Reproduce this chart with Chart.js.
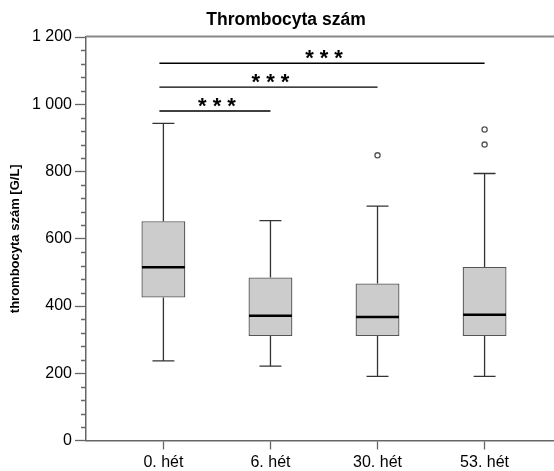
<!DOCTYPE html>
<html><head><meta charset="utf-8">
<script src="https://cdn.jsdelivr.net/npm/chart.js@4.4.1/dist/chart.umd.min.js"></script>
<style>html,body{margin:0;padding:0;background:#fff;overflow:hidden}#wrap{width:554px;height:471px;position:relative;overflow:hidden}</style>
</head><body><div id="wrap"><canvas id="c" width="560" height="471"></canvas></div>
<script>
const categories = ['0. hét', '6. hét', '30. hét', '53. hét'];
const whiskerLow = [237, 221, 191, 191];
const q1 = [425, 311, 311, 311];
const median = [515, 371, 367, 374];
const q3 = [652, 485, 467, 516];
const whiskerHigh = [943, 654, 697, 794];
const outlierCategory = [2, 3, 3];
const outlierValue = [848, 925, 880];
const sigFrom = [0, 0, 0];
const sigTo = [1, 2, 3];
const sigLevel = [980, 1051, 1122];
const sigLabel = ['***', '***', '***'];
const yTickValues = [0, 200, 400, 600, 800, 1000, 1200];
const yMinorStep = 40;
const titleText = 'Thrombocyta szám';
const yAxisTitle = 'thrombocyta szám [G/L]';

const FAMILY = "'Liberation Sans', Arial, sans-serif";
const fmt = v => String(v).replace(/\B(?=(\d{3})+(?!\d))/g, ' ');

const boxData = categories.map((c, i) => ({ x: i, y: [q1[i], q3[i]] }));
const outlierData = outlierValue.map((v, i) => ({ x: outlierCategory[i], y: v }));

const boxPlugin = {
  id: 'boxplotExtras',
  afterDatasetsDraw(chart) {
    const { ctx, chartArea } = chart;
    const x = chart.scales.x, y = chart.scales.y;
    const meta = chart.getDatasetMeta(0);
    ctx.save();
    // top frame line
    ctx.strokeStyle = '#888'; ctx.lineWidth = 2;
    ctx.beginPath();
    ctx.moveTo(chartArea.left, chartArea.top - 0.5);
    ctx.lineTo(chartArea.right, chartArea.top - 0.5);
    ctx.stroke();
    // minor y ticks
    ctx.strokeStyle = '#666'; ctx.lineWidth = 1.3;
    ctx.beginPath();
    for (let v = y.min; v <= y.max; v += yMinorStep) {
      if (yTickValues.includes(v)) continue;
      const py = Math.round(y.getPixelForValue(v)) + 0.5;
      ctx.moveTo(chartArea.left - 5, py);
      ctx.lineTo(chartArea.left, py);
    }
    ctx.stroke();
    // whiskers and medians
    categories.forEach((c, i) => {
      const bar = meta.data[i];
      const cx = x.getPixelForValue(i);
      const bw = bar.width;
      const cap = bw * 0.25;
      const yh = y.getPixelForValue(whiskerHigh[i]);
      const yl = y.getPixelForValue(whiskerLow[i]);
      ctx.strokeStyle = '#333'; ctx.lineWidth = 1.3;
      ctx.beginPath();
      ctx.moveTo(cx, y.getPixelForValue(q3[i])); ctx.lineTo(cx, yh);
      ctx.moveTo(cx, y.getPixelForValue(q1[i])); ctx.lineTo(cx, yl);
      ctx.moveTo(cx - cap, yh); ctx.lineTo(cx + cap, yh);
      ctx.moveTo(cx - cap, yl); ctx.lineTo(cx + cap, yl);
      ctx.stroke();
      const ym = y.getPixelForValue(median[i]);
      ctx.strokeStyle = '#000'; ctx.lineWidth = 2.5;
      ctx.beginPath();
      ctx.moveTo(cx - bw / 2 + 0.5, ym); ctx.lineTo(cx + bw / 2 - 0.5, ym);
      ctx.stroke();
    });
    // significance bars
    ctx.strokeStyle = '#000'; ctx.lineWidth = 1.3;
    ctx.fillStyle = '#000';
    ctx.font = 'bold 22px ' + FAMILY;
    ctx.textAlign = 'center'; ctx.textBaseline = 'alphabetic';
    try { ctx.letterSpacing = '6px'; } catch (e) {}
    sigLevel.forEach((lv, k) => {
      const x0 = x.getPixelForValue(sigFrom[k]) - 4;
      const x1 = x.getPixelForValue(sigTo[k]);
      const py = y.getPixelForValue(lv);
      ctx.beginPath(); ctx.moveTo(x0, py); ctx.lineTo(x1, py); ctx.stroke();
      const mid = (x.getPixelForValue(sigFrom[k]) + x1) / 2 + 3;
      ctx.fillText(sigLabel[k], mid, py + 2);
    });
    try { ctx.letterSpacing = '0px'; } catch (e) {}
    // chart title
    ctx.font = 'bold 17.5px ' + FAMILY;
    ctx.textAlign = 'center'; ctx.textBaseline = 'alphabetic';
    ctx.fillText(titleText, 286, 25.3);
    ctx.restore();
  }
};

new Chart(document.getElementById('c'), {
  type: 'bar',
  data: {
    datasets: [
      { type: 'bar', data: boxData, backgroundColor: '#cccccc', borderColor: '#555', borderWidth: 1.3,
        borderSkipped: false, barPercentage: 0.41, categoryPercentage: 1, order: 2 },
      { type: 'scatter', data: outlierData, pointStyle: 'circle', pointRadius: 2.6, pointBorderWidth: 1.3,
        pointBorderColor: '#555', pointBackgroundColor: '#fff', order: 1 }
    ]
  },
  options: {
    responsive: false, animation: false, devicePixelRatio: 1,
    layout: { padding: { top: 37, left: 0, right: 0, bottom: 0 } },
    plugins: { legend: { display: false }, tooltip: { enabled: false }, title: { display: false } },
    scales: {
      x: {
        type: 'linear', min: -0.723, max: 3.655, offset: false,
        afterBuildTicks: s => { s.ticks = categories.map((c, i) => ({ value: i })); },
        afterFit: s => { s.height = 30.5; },
        ticks: { callback: v => categories[v], font: { family: FAMILY, size: 16 }, color: '#000',
                 padding: 3, maxRotation: 0, autoSkip: false },
        grid: { display: true, offset: false, drawOnChartArea: false, tickLength: 9, tickColor: '#666', tickWidth: 1.3 },
        border: { display: true, color: '#666', width: 1.5 }
      },
      y: {
        min: 0, max: 1200,
        afterBuildTicks: s => { s.ticks = yTickValues.map(v => ({ value: v })); },
        afterFit: s => { s.width = 86; },
        ticks: { callback: v => fmt(v), font: { family: FAMILY, size: 16 }, color: '#000', padding: 3 },
        grid: { drawOnChartArea: false, tickLength: 11, tickColor: '#666', tickWidth: 1.3 },
        border: { color: '#666', width: 1.5 },
        title: { display: true, text: yAxisTitle, font: { family: FAMILY, size: 13, weight: 'bold' },
                 color: '#000', padding: { top: 8, bottom: 0 } }
      }
    }
  },
  plugins: [boxPlugin]
});
</script></body></html>
